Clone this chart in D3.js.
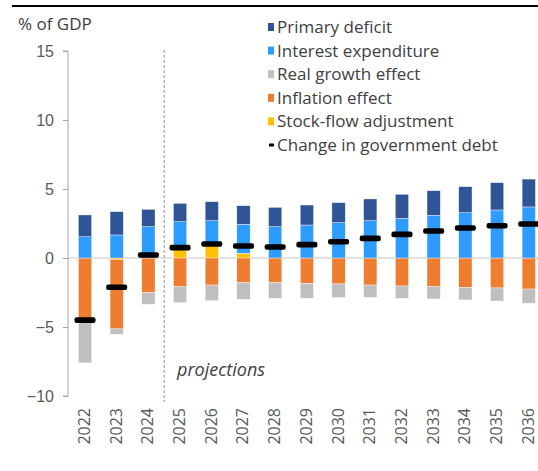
<!DOCTYPE html>
<html lang="en">
  <head>
    <meta charset="UTF-8" />
    <title>debt dynamics</title>
    <script src="https://cdn.jsdelivr.net/npm/d3@7"></script>
    <style>
      body { margin: 0; background: #fff; }
      svg { display: block; font-family: 'Open Sans', 'Liberation Sans', sans-serif; }
    </style>
  </head>
  <body>
    <svg width="538" height="471"></svg>
  </body>

  <script>
    // data (% of GDP)
    var years = ['2022', '2023', '2024', '2025', '2026', '2027', '2028', '2029', '2030', '2031', '2032', '2033', '2034', '2035', '2036'];
    var primaryDeficit = [1.58, 1.69, 1.26, 1.33, 1.38, 1.35, 1.40, 1.45, 1.45, 1.58, 1.75, 1.79, 1.89, 1.98, 2.02];
    var interestExp = [1.54, 1.67, 2.27, 1.83, 1.80, 2.10, 2.27, 2.39, 2.56, 2.70, 2.87, 3.09, 3.28, 3.48, 3.70];
    var realGrowth = [-3.0, -0.39, -0.85, -1.16, -1.13, -1.20, -1.13, -1.08, -0.99, -0.89, -0.89, -0.89, -0.91, -0.95, -1.03];
    var inflation = [-4.6, -5.04, -2.51, -2.08, -1.96, -1.79, -1.79, -1.84, -1.88, -1.96, -2.03, -2.08, -2.13, -2.17, -2.25];
    var stockFlow = [0, -0.1, 0, 0.8, 0.9, 0.34, 0, 0, 0, 0, 0, 0, 0, 0, 0];
    var debtChange = [-4.5, -2.12, 0.22, 0.75, 1.01, 0.87, 0.8, 0.97, 1.18, 1.42, 1.71, 1.96, 2.17, 2.34, 2.46];
    var yTicks = [-10, -5, 0, 5, 10, 15];

    var series = [
      { key: 'sfa', name: 'Stock-flow adjustment', color: '#FFC000', values: stockFlow },
      { key: 'infl', name: 'Inflation effect', color: '#ED7D31', values: inflation },
      { key: 'real', name: 'Real growth effect', color: '#BFBFBF', values: realGrowth },
      { key: 'int', name: 'Interest expenditure', color: '#2E9BFF', values: interestExp },
      { key: 'prim', name: 'Primary deficit', color: '#2F5597', values: primaryDeficit }
    ];

    var table = years.map(function (y, i) {
      var row = { year: y };
      series.forEach(function (s) { row[s.key] = s.values[i]; });
      return row;
    });

    var svg = d3.select('svg');

    // rule at the top
    svg.append('line').attr('x1', 12).attr('x2', 538).attr('y1', 6).attr('y2', 6)
      .attr('stroke', '#000').attr('stroke-width', 2);

    var x = d3.scaleBand().domain(years).range([69.15, 544.6]).paddingInner(0.58).paddingOuter(0.29);
    var y = d3.scaleLinear().domain([-10, 15]).range([396, 51]);

    // zero line
    svg.append('line').attr('x1', 68).attr('x2', 538).attr('y1', y(0)).attr('y2', y(0))
      .attr('stroke', '#D9D9D9').attr('stroke-width', 1.5);

    // projections divider
    var divX = x('2024') + x.bandwidth() + (x.step() - x.bandwidth()) / 2;
    svg.append('line').attr('x1', divX).attr('x2', divX).attr('y1', 50).attr('y2', 402)
      .attr('stroke', '#A6A6A6').attr('stroke-width', 1.2).attr('stroke-dasharray', '3,2');

    svg.append('text').attr('x', 177).attr('y', 376).attr('font-style', 'italic')
      .attr('font-size', 18).attr('fill', '#404040').text('projections');

    // stacked bars
    var stack = d3.stack().keys(series.map(function (s) { return s.key; })).offset(d3.stackOffsetDiverging);
    var layers = stack(table);

    svg.append('g').selectAll('g').data(layers).enter().append('g')
      .attr('fill', function (d, i) { return series[i].color; })
      .selectAll('rect').data(function (d) { return d; }).enter().append('rect')
      .attr('x', function (d) { return x(d.data.year); })
      .attr('width', x.bandwidth())
      .attr('y', function (d) { return y(Math.max(d[0], d[1])); })
      .attr('height', function (d) { return Math.abs(y(d[0]) - y(d[1])); })
      .attr('stroke', '#fff').attr('stroke-width', 0.4);

    // change in debt markers
    svg.append('g').selectAll('rect').data(debtChange).enter().append('rect')
      .attr('x', function (d, i) { return x(years[i]) + x.bandwidth() / 2 - 10.5; })
      .attr('y', function (d) { return y(d) - 2.8; })
      .attr('width', 21).attr('height', 5.6).attr('rx', 2)
      .attr('fill', '#000');

    // y axis
    var axisY = d3.axisLeft(y).tickValues(yTicks).tickSize(5).tickPadding(9);
    var gy = svg.append('g').attr('transform', 'translate(68,0)').call(axisY);
    gy.select('.domain').attr('stroke', '#A6A6A6').attr('d', 'M-5,' + y(-10) + 'H0V' + y(15) + 'H-5');
    gy.selectAll('.tick line').attr('stroke', '#A6A6A6');
    gy.selectAll('.tick text').attr('font-size', 16).attr('fill', '#595959').attr('font-family', null);

    svg.append('text').attr('x', 18).attr('y', 30).attr('font-size', 17).attr('fill', '#404040').text('% of GDP');

    // x labels
    svg.append('g').selectAll('text').data(years).enter().append('text')
      .attr('transform', function (d) {
        return 'translate(' + (x(d) + x.bandwidth() / 2 + 5) + ',408) rotate(-90)';
      })
      .attr('text-anchor', 'end').attr('font-size', 16).attr('fill', '#595959')
      .text(function (d) { return d; });

    // legend
    var legendItems = series.slice().reverse().concat([{ name: 'Change in government debt', color: '#000', marker: true }]);
    var lg = svg.append('g').selectAll('g').data(legendItems).enter().append('g')
      .attr('transform', function (d, i) { return 'translate(268,' + (27 + i * 23.6) + ')'; });
    lg.append('rect')
      .attr('x', function (d) { return d.marker ? 1 : 0; })
      .attr('y', function (d) { return d.marker ? -1.5 : -4; })
      .attr('width', function (d) { return d.marker ? 5 : 6; })
      .attr('height', function (d) { return d.marker ? 3 : 8; })
      .attr('fill', function (d) { return d.color; });
    lg.append('text').attr('x', 9).attr('y', 6).attr('font-size', 17).attr('fill', '#404040')
      .text(function (d) { return d.name; });
  </script>
</html>
